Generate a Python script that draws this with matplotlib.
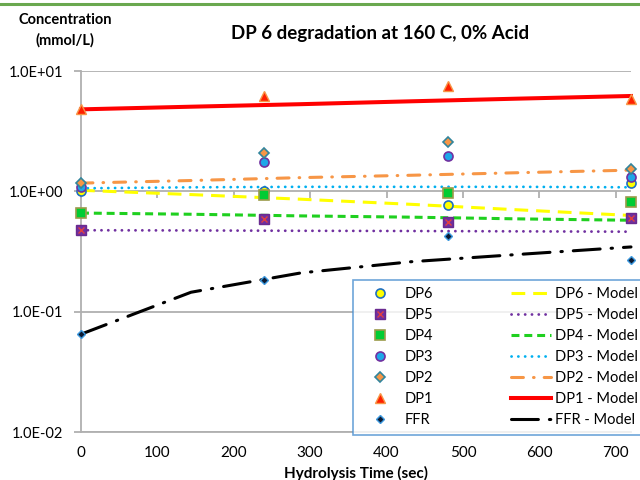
import numpy as np
import matplotlib
matplotlib.use('Agg')
from matplotlib import pyplot as plt
from matplotlib.lines import Line2D
from matplotlib.legend_handler import HandlerTuple
from matplotlib.ticker import FixedLocator, NullLocator

plt.rcParams['font.family'] = ['Lato', 'DejaVu Sans']

# measured data (sec, mmol/L)
t_obs = [0, 240, 480, 720]
dp6 = [1.0, 1.0, 0.77, 1.17]
dp5 = [0.48, 0.59, 0.56, 0.60]
dp4 = [0.66, 0.93, 0.97, 0.81]
dp3 = [1.08, 1.75, 1.97, 1.32]
dp2 = [1.17, 2.07, 2.57, 1.52]
dp1 = [4.8, 6.2, 7.5, 5.85]
ffr = [0.065, 0.183, 0.425, 0.27]

# model curves
t_mod = [0, 144, 288, 432, 576, 720]
dp6_mod = [1.02, 0.94, 0.86, 0.78, 0.70, 0.63]
dp5_mod = [0.475, 0.473, 0.47, 0.468, 0.465, 0.462]
dp4_mod = [0.66, 0.645, 0.625, 0.61, 0.59, 0.575]
dp3_mod = [1.06, 1.08, 1.09, 1.09, 1.09, 1.08]
dp2_mod = [1.17, 1.23, 1.30, 1.36, 1.43, 1.50]
dp1_mod = [4.8, 5.05, 5.3, 5.6, 5.9, 6.2]
ffr_mod = [0.065, 0.145, 0.21, 0.26, 0.30, 0.345]

labels = ['DP6', 'DP5', 'DP4', 'DP3', 'DP2', 'DP1', 'FFR']

fig = plt.figure(figsize=(6.4, 4.8), dpi=100)
ax = fig.add_axes([81 / 640, 1 - 432 / 480, 550 / 640, 361 / 480])

gray = '#b0b0b0'

# model lines
lines = []
lines += ax.plot(t_mod, dp6_mod, color='#ffff00', lw=2.2, ls=(0, (4.5, 2.6)))
lines += ax.plot(t_mod, dp5_mod, color='#7030a0', lw=2.0, ls=(0, (0.05, 2.4)),
                 dash_capstyle='round')
lines += ax.plot(t_mod, dp4_mod, color='#1fd01f', lw=2.2, ls=(0, (2.6, 1.6)))
lines += ax.plot(t_mod, dp3_mod, color='#00b0f0', lw=2.0, ls=(0, (0.05, 2.4)),
                 dash_capstyle='round')
lines += ax.plot(t_mod, dp2_mod, color='#f79646', lw=2.2, ls=(0, (3.9, 3.3, 0.2, 3.3)),
                 dash_capstyle='round')
lines += ax.plot(t_mod, dp1_mod, color='#ff0000', lw=2.9)
lines += ax.plot(t_mod, ffr_mod, color='#000000', lw=2.2, ls=(0, (8.8, 3.6, 0.45, 3.6)),
                 dash_capstyle='round')
for ln in lines:
    ln.set_clip_on(False)

# measured markers
kw = dict(ls='none', clip_on=False, zorder=5)
m6, = ax.plot(t_obs, dp6, marker='o', ms=6.5, mfc='#ffff00', mec='#1f6fc0', mew=1.2, **kw)
m5a, = ax.plot(t_obs, dp5, marker='s', ms=6.5, mfc='#7030a0', mec='#6a2a90', mew=1.0, **kw)
m5b, = ax.plot(t_obs, dp5, marker='x', ms=5, mec='#e04040', mew=1.0, ls='none',
               clip_on=False, zorder=6)
m4, = ax.plot(t_obs, dp4, marker='s', ms=6.5, mfc='#00cc33', mec='#9b9b4a', mew=1.2, **kw)
m3, = ax.plot(t_obs, dp3, marker='o', ms=6.5, mfc='#1ea7e8', mec='#7030a0', mew=1.2, **kw)
m2, = ax.plot(t_obs, dp2, marker='D', ms=5, mfc='#f79646', mec='#31859c', mew=1.2, **kw)
m1, = ax.plot(t_obs, dp1, marker='^', ms=7, mfc='#ff2000', mec='#f79646', mew=1.0, **kw)
mf, = ax.plot(t_obs, ffr, marker='D', ms=4.5, mfc='#0b1a33', mec='#3d9ae0', mew=1.0, **kw)

ax.set_yscale('log')
ax.set_ylim(1e-2, 1e1)
ax.set_xlim(0, 720)
ax.yaxis.set_major_locator(FixedLocator([1e-2, 1e-1, 1e0, 1e1]))
ax.yaxis.set_minor_locator(NullLocator())
ax.set_yticklabels(['1.0E-02', '1.0E-01', '1.0E+00', '1.0E+01'])
ax.set_xticks(range(0, 701, 100))
ax.grid(axis='y', color=gray, lw=1.3)
ax.set_axisbelow(True)

for s in ['top', 'right']:
    ax.spines[s].set_visible(False)
for s in ['left', 'bottom']:
    ax.spines[s].set_color(gray)
    ax.spines[s].set_linewidth(1.3)
ax.tick_params(axis='x', length=0, pad=10, labelsize=11)
ax.tick_params(axis='y', length=5, color=gray, width=1.3, pad=8, labelsize=10.5)

# horizontal axis crosses at 1.0 with tick marks hanging below it
sec = ax.secondary_xaxis(2 / 3)
sec.set_xticks(range(0, 701, 100))
sec.xaxis.set_ticks_position('bottom')
sec.tick_params(length=5, direction='out', color=gray, width=1.3,
                labelbottom=False, labeltop=False)
sec.spines['bottom'].set_color(gray)
sec.spines['bottom'].set_linewidth(1.3)
sec.spines['top'].set_visible(False)

ax.set_xlabel('Hydrolysis Time (sec)', fontsize=11, fontweight='bold', labelpad=4)
fig.text(65 / 640, 1 - 30 / 480, 'Concentration\n(mmol/L)', ha='center', va='center',
         fontsize=10.5, fontweight='bold', linespacing=1.5)
fig.text(380 / 640, 1 - 33 / 480, 'DP 6 degradation at 160 C, 0% Acid', ha='center',
         va='center', fontsize=13.5, fontweight='bold')

# green rule at the top
fig.add_artist(Line2D([0, 1], [1 - 4 / 480, 1 - 4 / 480], transform=fig.transFigure,
                      color='#6aa84f', lw=2.2))

handles = [m6, (m5a, m5b), m4, m3, m2, m1, mf] + lines
names = labels + [l + ' - Model' for l in labels]
leg = ax.legend(handles, names, ncol=2, loc='upper left',
                bbox_to_anchor=(353 / 640, 1 - 280 / 480), bbox_transform=fig.transFigure,
                borderaxespad=0, fontsize=10.5, handlelength=2.75, handletextpad=0.3,
                columnspacing=5.3, labelspacing=0.48, borderpad=0.5, frameon=True,
                fancybox=False, handler_map={tuple: HandlerTuple(ndivide=1, pad=0)})
leg.get_frame().set_edgecolor('#4a8fd0')
leg.get_frame().set_linewidth(1.2)
leg.set_zorder(10)

fig.savefig('out.png', dpi=100)
